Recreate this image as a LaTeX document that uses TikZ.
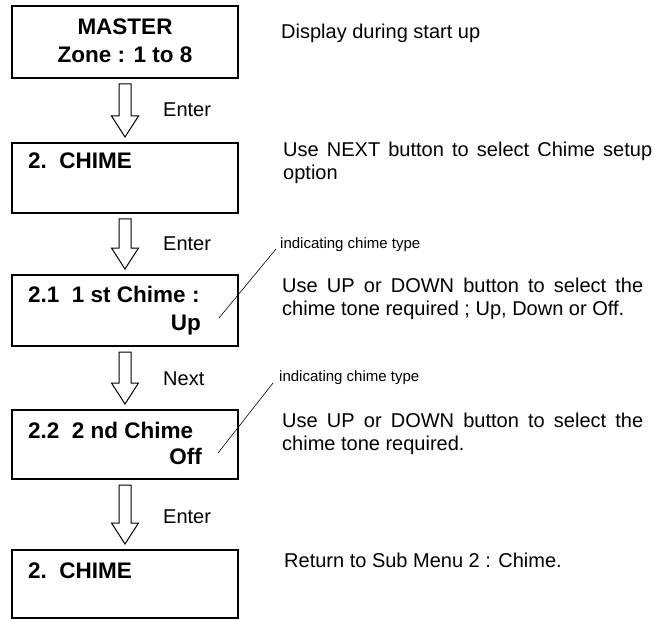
\documentclass[tikz,border=0pt]{standalone}
\usepackage{fontspec}
\setmainfont{Liberation Sans}
\usetikzlibrary{calc}
\tikzset{
  screen/.style={draw, line width=2pt, minimum width=226pt, inner sep=0pt, outer sep=0pt, anchor=north west},
  boxtext/.style={font=\fontsize{22.5}{26}\selectfont\bfseries, inner sep=0pt, anchor=base west},
  boxtextr/.style={font=\fontsize{22.5}{26}\selectfont\bfseries, inner sep=0pt, anchor=base east},
  note/.style={font=\fontsize{20}{23}\selectfont, inner sep=0pt, anchor=base west},
  keylabel/.style={font=\fontsize{20}{23}\selectfont, inner sep=0pt, anchor=base west},
  small/.style={font=\fontsize{15}{18}\selectfont, inner sep=0pt, anchor=base west},
  blk/.style={draw, line width=1pt, line join=miter, fill=white},
  leader/.style={draw, line width=0.6pt}
}
\newcommand{\blockdown}[2]{%
  \draw[blk] let \p1=(#1.south), \p2=(#2.north) in
    (\x1-6pt,\y1-6pt) -- (\x1-6pt,\y2+27pt) -- (\x1-13.5pt,\y2+27pt) --
    (\x1,\y2+6pt) -- (\x1+13.5pt,\y2+27pt) -- (\x1+6pt,\y2+27pt) --
    (\x1+6pt,\y1-6pt) -- cycle;}
\begin{document}
\begin{tikzpicture}[x=1pt,y=-1pt]
\useasboundingbox (0,0) rectangle (655,620);

% boxes
\node[screen, minimum height=72pt] (b1) at (12,6) {};
\node[screen, minimum height=70pt] (b2) at (12,143) {};
\node[screen, minimum height=71pt] (b3) at (12,275) {};
\node[screen, minimum height=69pt] (b4) at (12,410) {};
\node[screen, minimum height=68pt] (b5) at (12,550) {};

% box texts
\node[boxtext, anchor=base] (t1a) at (125,35) {MASTER};
\node[boxtext, anchor=base] (t1b) at (125,63) {Zone : 1 to 8};
\node[boxtext] (t2) at (28,169) {2.\ \ CHIME};
\node[boxtext] (t3a) at (28,302) {2.1\ \ 1 st Chime :};
\node[boxtextr] (t3b) at (201,330) {Up};
\node[boxtext] (t4a) at (28,438) {2.2\ \ 2 nd Chime};
\node[boxtextr] (t4b) at (202,464) {Off};
\node[boxtext] (t5) at (28,578) {2.\ \ CHIME};

% block arrows
\blockdown{b1}{b2}
\blockdown{b2}{b3}
\blockdown{b3}{b4}
\blockdown{b4}{b5}

% arrow labels
\node[keylabel] (k1) at (163,117) {Enter};
\node[keylabel] (k2) at (163,251) {Enter};
\node[keylabel] (k3) at (163,385) {Next};
\node[keylabel] (k4) at (163,523) {Enter};

% side notes
\node[note] (n1) at (281,39) {Display during start up};
\node[note] (n2) at (283,157) {\parbox[t]{369pt}{\makebox[369pt][s]{Use NEXT button to select Chime setup}\\option}};
\node[note] (n3) at (282,292) {\parbox[t]{361pt}{\makebox[361pt][s]{Use UP or DOWN button to select the}\\chime tone required ; Up, Down or Off.}};
\node[note] (n4) at (282,427) {\parbox[t]{361pt}{\makebox[361pt][s]{Use UP or DOWN button to select the}\\chime tone required.}};
\node[note] (n5) at (284,567) {Return to Sub Menu 2 : Chime.};

% indicating labels and leaders
\node[small] (s1) at (280,248) {indicating chime type};
\node[small] (s2) at (279,381) {indicating chime type};
\coordinate (l1a) at (219,318);
\coordinate (l1b) at (276,249);
\coordinate (l2a) at (218,453);
\coordinate (l2b) at (273,383);
\draw[leader] (l1a) -- (l1b);
\draw[leader] (l2a) -- (l2b);
\end{tikzpicture}
\end{document}
